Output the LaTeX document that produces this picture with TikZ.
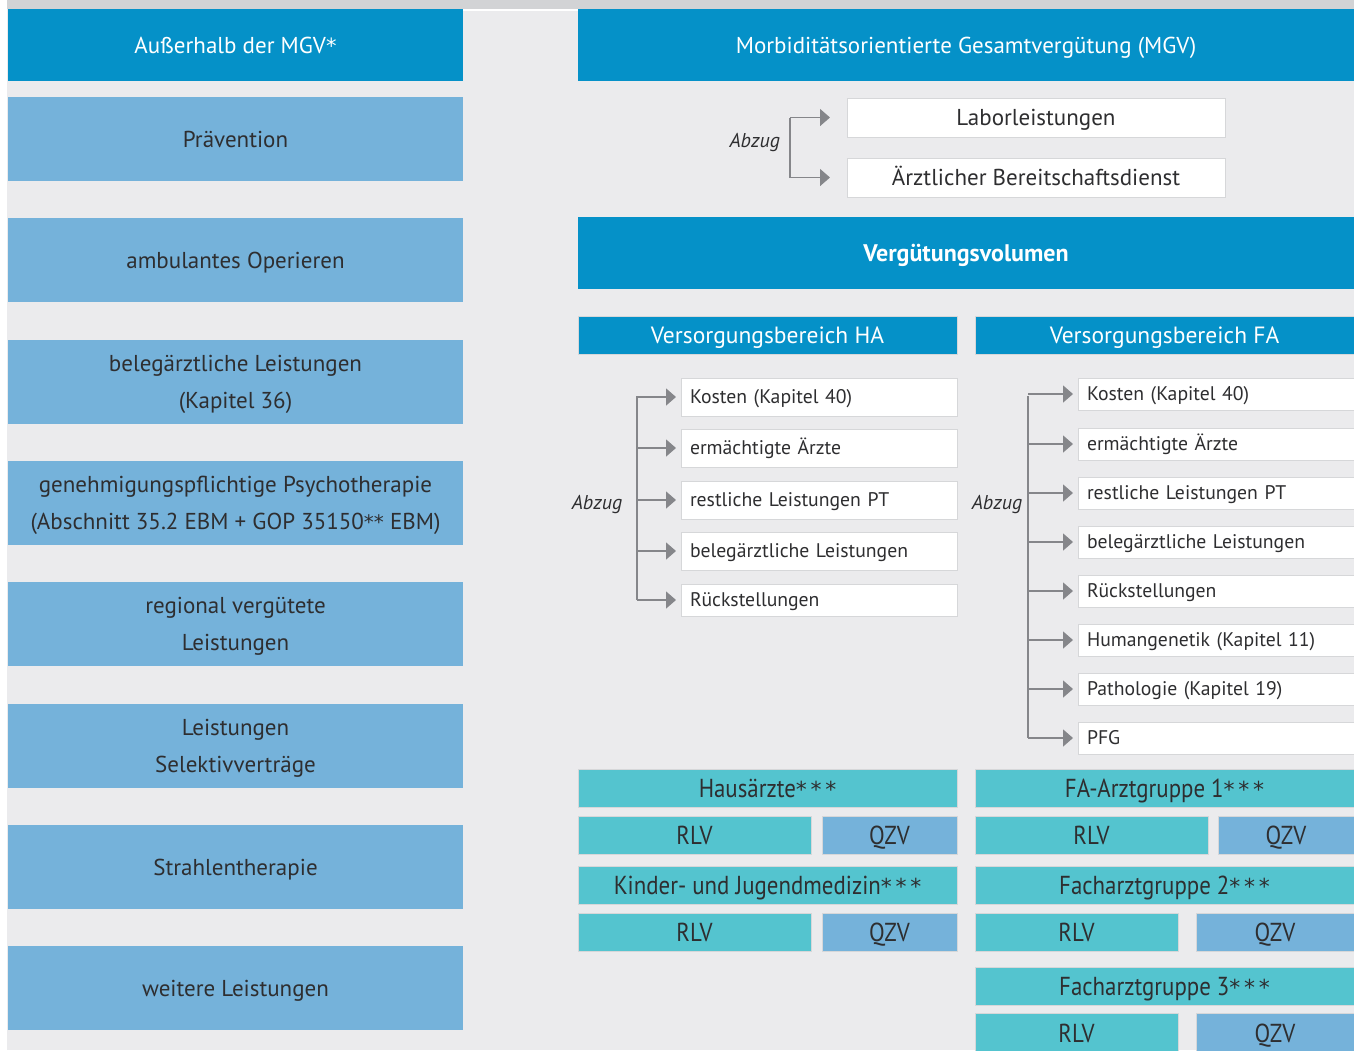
\documentclass[tikz,border=0pt]{standalone}
\usepackage{fontspec}
\setmainfont{PT Sans}
\newfontfamily\condf[FakeStretch=0.88]{PT Sans}
\newfontfamily\astf{DejaVu Sans}
\newcommand\stars[2]{{\astf\fontsize{#1}{#1}\selectfont #2}}
\usetikzlibrary{arrows.meta}
\definecolor{bg}{HTML}{EBEBED}
\definecolor{topstrip}{HTML}{D2D3D5}
\definecolor{dblue}{HTML}{0591C8}
\definecolor{lblue}{HTML}{75B2DA}
\definecolor{tealc}{HTML}{54C4CF}
\definecolor{edge}{HTML}{D6D7D9}
\definecolor{txt}{HTML}{2E2E30}
\definecolor{arr}{HTML}{85868A}
\newcommand\rect[7]{\node[#6, minimum width={(#4-#2)*1pt}, minimum height={(#5-#3)*1pt}] (#1) at ({(#2+#4)/2},{(#3+#5)/2}) {#7};}
\begin{document}
\begin{tikzpicture}[x=1pt,y=-1pt,
 every node/.style={inner sep=0pt, outer sep=0pt},
 hdr/.style={fill=dblue, text=white, font=\fontsize{23}{27}\selectfont, text height=16.1pt, text depth=0pt},
 lft/.style={fill=lblue, text=txt, align=center, font=\fontsize{23}{37}\selectfont, text height=53.1pt, text depth=0pt},
 lft1/.style={fill=lblue, text=txt, font=\fontsize{23}{27}\selectfont, text height=16.1pt, text depth=0pt},
 vb/.style={fill=dblue, draw=edge, line width=1pt, text=white, font=\fontsize{23.5}{27}\selectfont, text height=16.5pt, text depth=0pt},
 vvol/.style={fill=dblue, text=white, font=\bfseries\fontsize{24}{28}\selectfont, text height=16.8pt, text depth=0pt},
 wbox/.style={fill=white, draw=edge, line width=1pt, text=txt, font=\fontsize{23}{27}\selectfont, text height=16.1pt, text depth=0pt},
 listbox/.style={fill=white, draw=edge, line width=1pt, text=txt, text width=258pt, inner xsep=9pt, align=left, font=\fontsize{19.7}{23}\selectfont, text height=13.8pt, text depth=0pt},
 grp/.style={fill=tealc, draw=edge, line width=1pt, text=txt, font=\condf\fontsize{26}{30}\selectfont, text height=18.2pt, text depth=0pt},
 qzv/.style={fill=lblue, draw=edge, line width=1pt, text=txt, font=\condf\fontsize{26}{30}\selectfont, text height=18.2pt, text depth=0pt},
 abz/.style={text=txt, font=\itshape\fontsize{20}{24}\selectfont},
 conn/.style={draw=arr, line width=1.5pt},
 arrow/.style={conn, -{Triangle[length=10pt,width=17pt]}},
]
\useasboundingbox (0,0) rectangle (1354,1050);
\clip (0,0) rectangle (1354,1050);
\fill[bg] (0,0) rectangle (1354,1050);
\fill[white] (0,0) rectangle (7,1050);
\fill[topstrip] (7,0) rectangle (1354,9);
\fill[white] (463,9) rectangle (578,10.5);

% left column
\rect{lh}{8}{9}{463}{81}{hdr}{Außerhalb der MGV\stars{21}{*}}
\rect{l1}{8}{97}{463}{181}{lft1}{Prävention}
\rect{l2}{8}{218}{463}{302}{lft1}{ambulantes Operieren}
\rect{l3}{8}{340}{463}{424}{lft}{belegärztliche Leistungen\\(Kapitel 36)}
\rect{l4}{8}{461}{463}{545}{lft}{genehmigungspflichtige Psychotherapie\\(Abschnitt 35.2 EBM + GOP 35150\stars{20}{**} EBM)}
\rect{l5}{8}{582}{463}{666}{lft}{regional vergütete\\Leistungen}
\rect{l6}{8}{704}{463}{788}{lft}{Leistungen\\Selektivverträge}
\rect{l7}{8}{825}{463}{909}{lft1}{Strahlentherapie}
\rect{l8}{8}{946}{463}{1030}{lft1}{weitere Leistungen}

% right header
\rect{rh}{578}{9}{1354}{81}{hdr}{Morbiditätsorientierte Gesamtvergütung (MGV)}
\rect{lab}{847}{98}{1225}{137}{wbox}{Laborleistungen}
\rect{abd}{847}{158}{1225}{197}{wbox}{Ärztlicher Bereitschaftsdienst}
\coordinate (t0) at (790,117.5);
\coordinate (t1) at (790,177.5);
\draw[conn] (t0) -- (t1);
\draw[arrow, shorten >=17pt] (t0) -- (lab.west);
\draw[arrow, shorten >=17pt] (t1) -- (abd.west);
\node[abz, anchor=east] (abz0) at (780,143) {Abzug};

\rect{vv}{578}{217}{1354}{289}{vvol}{Vergütungsvolumen}
\rect{vha}{578}{316}{957}{354}{vb}{Versorgungsbereich HA}
\rect{vfa}{975}{316}{1354}{354}{vb}{Versorgungsbereich FA}

% HA list
\rect{h1}{681}{378}{957}{416}{listbox}{Kosten (Kapitel 40)}
\rect{h2}{681}{429}{957}{467}{listbox}{ermächtigte Ärzte}
\rect{h3}{681}{481}{957}{519}{listbox}{restliche Leistungen PT}
\rect{h4}{681}{532}{957}{570}{listbox}{belegärztliche Leistungen}
\rect{h5}{681}{584}{957}{616}{listbox}{Rückstellungen}
\coordinate (ha0) at (637,396);
\coordinate (ha1) at (637,600);
\draw[conn] (ha0) -- (ha1);
\foreach \n in {h1,h2,h3,h4,h5}{\draw[arrow, shorten >=5pt] (ha0 |- \n.west) -- (\n.west);}
\node[abz] (abz1) at (597,505) {Abzug};

% FA list
\rect{f1}{1078}{378}{1354}{410}{listbox}{Kosten (Kapitel 40)}
\rect{f2}{1078}{428}{1354}{460}{listbox}{ermächtigte Ärzte}
\rect{f3}{1078}{477}{1354}{509}{listbox}{restliche Leistungen PT}
\rect{f4}{1078}{526}{1354}{558}{listbox}{belegärztliche Leistungen}
\rect{f5}{1078}{575}{1354}{607}{listbox}{Rückstellungen}
\rect{f6}{1078}{624}{1354}{656}{listbox}{Humangenetik (Kapitel 11)}
\rect{f7}{1078}{673}{1354}{705}{listbox}{Pathologie (Kapitel 19)}
\rect{f8}{1078}{722}{1354}{754}{listbox}{PFG}
\coordinate (fa0) at (1028,396);
\coordinate (fa1) at (1028,738);
\draw[conn] (fa0) -- (fa1);
\foreach \n in {f1,f2,f3,f4,f5,f6,f7,f8}{\draw[arrow, shorten >=5pt] (fa0 |- \n.west) -- (\n.west);}
\node[abz] (abz2) at (997,505) {Abzug};

% groups HA
\rect{g1}{578}{769}{957}{807}{grp}{Hausärzte\stars{22}{*\,*\,*}}
\rect{g1r}{578}{816}{811}{854}{grp}{RLV}
\rect{g1q}{822}{816}{957}{854}{qzv}{QZV}
\rect{g2}{578}{866}{957}{904}{grp}{Kinder- und Jugendmedizin\stars{22}{*\,*\,*}}
\rect{g2r}{578}{913}{811}{951}{grp}{RLV}
\rect{g2q}{822}{913}{957}{951}{qzv}{QZV}
% groups FA
\rect{g3}{975}{769}{1354}{807}{grp}{FA-Arztgruppe 1\stars{22}{*\,*\,*}}
\rect{g3r}{975}{816}{1208}{854}{grp}{RLV}
\rect{g3q}{1218}{816}{1354}{854}{qzv}{QZV}
\rect{g4}{975}{866}{1354}{904}{grp}{Facharztgruppe 2\stars{22}{*\,*\,*}}
\rect{g4r}{975}{913}{1178}{951}{grp}{RLV}
\rect{g4q}{1196}{913}{1354}{951}{qzv}{QZV}
\rect{g5}{975}{967}{1354}{1005}{grp}{Facharztgruppe 3\stars{22}{*\,*\,*}}
\rect{g5r}{975}{1013}{1178}{1053}{grp}{RLV}
\rect{g5q}{1196}{1013}{1354}{1053}{qzv}{QZV}
\end{tikzpicture}
\end{document}
